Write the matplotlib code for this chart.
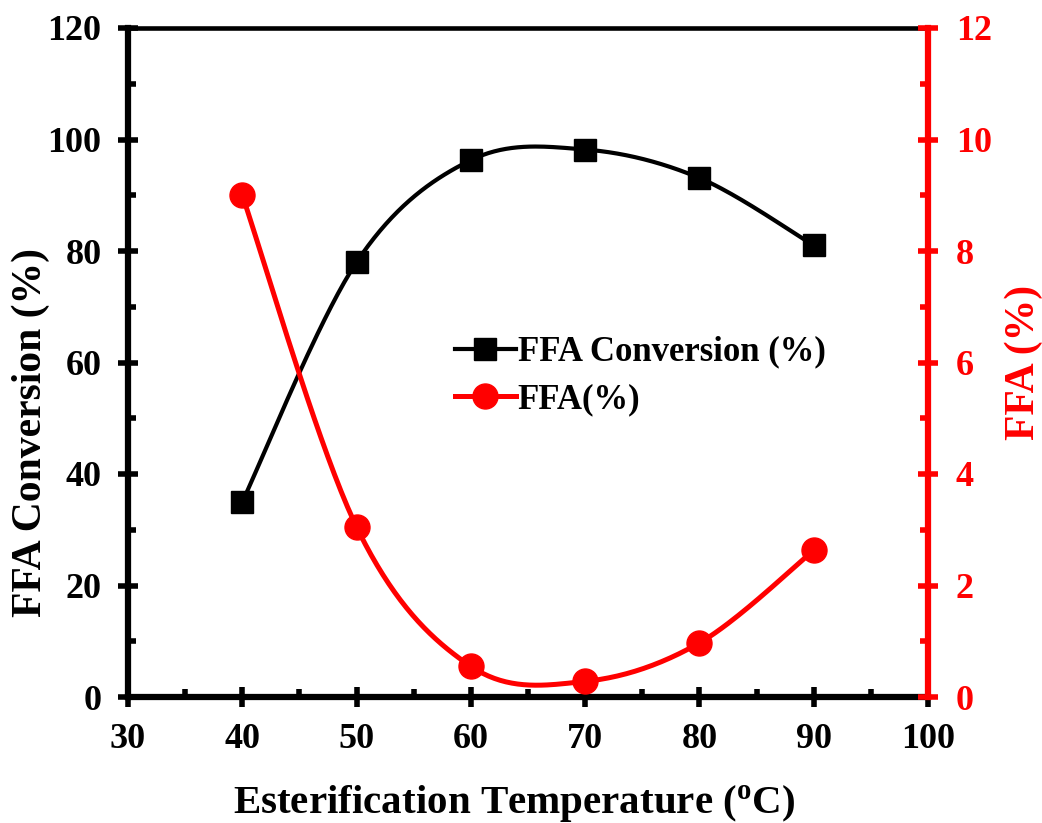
import numpy as np
import matplotlib
matplotlib.use('Agg')
import matplotlib.pyplot as plt
from matplotlib.ticker import MultipleLocator
from matplotlib.lines import Line2D

# Data
temp = [40, 50, 60, 70, 80, 90]
conversion = [35.0, 78.0, 96.3, 98.2, 93.1, 81.0]
ffa = [9.0, 3.05, 0.55, 0.28, 0.97, 2.63]

plt.rcParams['font.family'] = ['Liberation Serif', 'DejaVu Serif']
plt.rcParams['font.weight'] = 'bold'
plt.rcParams['mathtext.fontset'] = 'custom'
plt.rcParams['mathtext.rm'] = 'Liberation Serif:bold'

W, H = 1042, 823
fig = plt.figure(figsize=(W / 100, H / 100), dpi=100)
ax = fig.add_axes([128 / W, 1 - 697 / H, 800 / W, 669 / H])
ax2 = ax.twinx()

XLIM = (30, 100)
YLIM = (0, 120)
Y2LIM = (0, 12)
RED = '#ff0000'


def smooth(xs, ys, xlim, ylim, aw, ah, n=40):
    """Excel-style smoothed line: cubic Bezier through the points (in screen space)."""
    px = (np.asarray(xs, float) - xlim[0]) / (xlim[1] - xlim[0]) * aw
    py = (np.asarray(ys, float) - ylim[0]) / (ylim[1] - ylim[0]) * ah
    P = np.column_stack([px, py])
    out = []
    m = len(P)
    for i in range(m - 1):
        p0 = P[max(i - 1, 0)]
        p1 = P[i]
        p2 = P[i + 1]
        p3 = P[min(i + 2, m - 1)]
        c1 = p1 + (p2 - p0) / 6.0
        c2 = p2 - (p3 - p1) / 6.0
        t = np.linspace(0, 1, n)[:, None]
        seg = ((1 - t) ** 3) * p1 + 3 * ((1 - t) ** 2) * t * c1 + 3 * (1 - t) * t ** 2 * c2 + t ** 3 * p2
        out.append(seg if i == 0 else seg[1:])
    S = np.vstack(out)
    sx = S[:, 0] / aw * (xlim[1] - xlim[0]) + xlim[0]
    sy = S[:, 1] / ah * (ylim[1] - ylim[0]) + ylim[0]
    return sx, sy


aw, ah = 800, 669
sx, sy = smooth(temp, conversion, XLIM, YLIM, aw, ah)
ax.plot(sx, sy, color='black', lw=3.0, zorder=3)
ax.plot(temp, conversion, ls='none', marker='s', ms=16, color='black', zorder=4)

rx, ry = smooth(temp, ffa, XLIM, Y2LIM, aw, ah)
ax2.plot(rx, ry, color=RED, lw=3.6, zorder=3)
ax2.plot(temp, ffa, ls='none', marker='o', ms=18, color=RED, zorder=4)

ax.set_xlim(*XLIM)
ax.set_ylim(*YLIM)
ax2.set_ylim(*Y2LIM)

ax.xaxis.set_major_locator(MultipleLocator(10))
ax.xaxis.set_minor_locator(MultipleLocator(5))
ax.yaxis.set_major_locator(MultipleLocator(20))
ax.yaxis.set_minor_locator(MultipleLocator(10))
ax2.yaxis.set_major_locator(MultipleLocator(2))
ax2.yaxis.set_minor_locator(MultipleLocator(1))

for a in (ax, ax2):
    for s in a.spines.values():
        s.set_linewidth(4.5)
    a.spines['top'].set_linewidth(3.3)

ax.spines['right'].set_visible(False)
ax2.spines['left'].set_visible(False)
ax2.spines['bottom'].set_visible(False)
ax2.spines['top'].set_visible(False)
ax2.spines['right'].set_color(RED)

ax.tick_params(axis='both', which='major', direction='inout', length=14, width=4,
               labelsize=26, pad=12)
ax.tick_params(axis='both', which='minor', direction='in', length=6, width=4)
ax.tick_params(axis='x', which='major', pad=12)
ax.tick_params(top=False, right=False, which='both')
ax2.tick_params(axis='y', which='major', direction='inout', length=14, width=4,
                labelsize=26, colors=RED, pad=13)
ax2.tick_params(axis='y', which='minor', direction='in', length=6, width=4, colors=RED)

for lbl in ax.get_xticklabels() + ax.get_yticklabels() + ax2.get_yticklabels():
    lbl.set_fontweight('bold')

ax.set_xlabel('Esterification Temperature ($\\mathregular{^{o}}$C)', fontsize=29.5,
              fontweight='bold')
ax.xaxis.set_label_coords(0.4825, -0.129)
ax.set_ylabel('FFA Conversion (%)', fontsize=30, fontweight='bold')
ax.yaxis.set_label_coords(-0.0975, 0.395)
ax2.set_ylabel('FFA (%)', fontsize=30, fontweight='bold', color=RED)
ax2.yaxis.set_label_coords(1.096, 0.5)

handles = [
    Line2D([], [], color='black', lw=3.0, marker='s', ms=16),
    Line2D([], [], color=RED, lw=3.6, marker='o', ms=18),
]
leg = fig.legend(handles, ['FFA Conversion (%)', 'FFA(%)'], loc='center left',
                 bbox_to_anchor=(455 / W, 1 - 376 / H), bbox_transform=fig.transFigure,
                 frameon=False, handlelength=1.75, handletextpad=0.05,
                 labelspacing=0.42, borderpad=0, borderaxespad=0,
                 prop={'size': 25, 'weight': 'bold'})

fig.savefig('out.png', dpi=100)
